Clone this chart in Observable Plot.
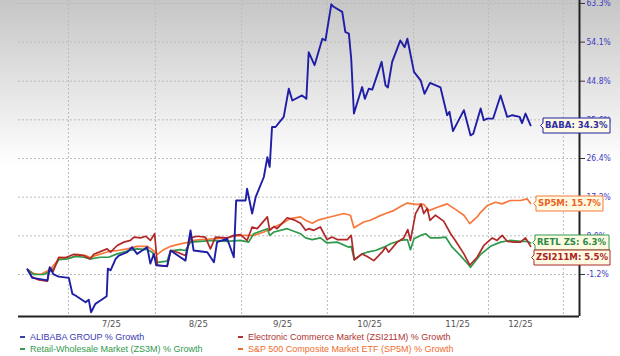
<!DOCTYPE html>
<html><head><meta charset="utf-8">
<script src="https://cdn.jsdelivr.net/npm/d3@7"></script>
<script src="https://cdn.jsdelivr.net/npm/@observablehq/plot@0.6"></script>
<style>
html,body{margin:0;padding:0;}
body{width:620px;height:356px;overflow:hidden;background:linear-gradient(to bottom,#c6c6c6 0px,#ffffff 165px,#ffffff 356px);font-family:"Liberation Sans",Arial,sans-serif;}
#chart svg{display:block;}
.legend{position:relative;height:25px;margin-top:1px;font-size:9px;}
.item{position:absolute;white-space:nowrap;line-height:12px;}
.dash{display:inline-block;width:5px;height:2px;vertical-align:middle;margin-right:5px;position:relative;top:-1px;}
</style></head><body>
<div id="chart"></div>
<div class="legend" id="legend"></div>
<script>
// x is a trading-day index counted from the start of the period
const xDomain = [-2.31, 141.54];
const yDomain = [-11.2, 64.0];
const yTicks = [63.3, 54.1, 44.8, 35.6, 26.4, 17.2, 8.0, -1.2];
const gridDays = [10.5, 32.8, 54.9, 76.9, 99.0, 118.2, 137.4];
const labelDays = [21.5, 43.8, 65.4, 87.7, 110.3, 126.4];
const xLabels = ["7/25", "8/25", "9/25", "10/25", "11/25", "12/25"];

const seriesNames = ["ALIBABA GROUP % Growth", "Electronic Commerce Market (ZSI211M) % Growth", "Retail-Wholesale Market (ZS3M) % Growth", "S&P 500 Composite Market ETF (SP5M) % Growth"];
const endLabels = ["BABA: 34.3%", "ZSI211M: 5.5%", "RETL ZS: 6.3%", "SP5M: 15.7%"];

const baba = [[0,0],[1.2,-2.0],[2.5,-2.2],[5.1,-2.6],[5.7,0.5],[6.7,-1.2],[8.0,-1.7],[10.6,-2.0],[11.5,-5.8],[12.3,-6.2],[14.9,-7.8],[15.7,-7.2],[16.3,-10.2],[17.4,-8.2],[18.7,-7.4],[20.3,-6.4],[20.6,0.2],[21.3,-0.2],[22.6,2.5],[23.4,3.3],[25.6,4.1],[26.8,5.3],[28.1,3.7],[29.4,4.5],[30.7,5.3],[31.5,1.4],[32.4,3.7],[33.0,1.0],[35.8,0.8],[36.7,4.5],[39.2,2.9],[40.5,2.1],[41.8,9.3],[42.6,4.5],[46.1,4.1],[47.8,1.7],[48.6,6.5],[51.2,7.3],[52.9,2.9],[53.5,16.4],[55.9,16.4],[56.3,19.2],[57.6,13.3],[58.5,17.2],[60.6,22.0],[61.5,26.7],[62.1,24.4],[62.7,33.9],[63.6,33.9],[65.7,36.3],[67.0,43.0],[67.9,40.2],[70.4,41.4],[71.5,40.6],[72.1,51.7],[73.6,48.6],[75.6,54.9],[76.4,54.5],[77.9,63.1],[78.5,62.5],[80.7,61.3],[81.5,56.5],[82.4,56.1],[83.0,50.2],[83.7,37.1],[85.8,43.4],[86.5,40.6],[87.5,43.0],[88.4,42.8],[90.8,49.4],[91.8,43.8],[92.4,43.3],[93.5,49.4],[95.6,54.5],[96.7,52.9],[97.4,54.9],[99.1,47.0],[100.8,45.0],[101.8,41.8],[103.2,44.4],[105.9,43.3],[107.6,36.7],[108.2,37.5],[109.1,32.9],[111.9,37.9],[113.6,31.9],[114.3,32.3],[116.2,38.3],[117.0,35.5],[117.9,35.9],[119.4,35.9],[121.3,41.4],[123.0,36.3],[124.3,36.7],[126.2,36.3],[126.8,34.8],[127.7,37.1],[129.0,34.3]];

const zsi211m = [[0,0],[1.2,-1.8],[2.9,-2.5],[5.1,-2.8],[5.7,0.5],[6.6,-0.4],[8.0,2.9],[9.7,2.8],[11.9,3.6],[14.4,3.3],[16.0,2.5],[17.0,3.6],[20.4,4.9],[21.3,4.1],[23.0,5.7],[24.7,6.5],[26.4,6.9],[27.3,7.7],[29.0,7.5],[30.3,7.9],[31.5,6.9],[32.6,8.5],[33.3,1.0],[35.8,0.7],[36.7,4.5],[38.4,4.1],[40.5,3.3],[41.8,7.5],[43.5,7.9],[45.6,7.7],[46.9,4.9],[48.2,7.7],[51.2,7.5],[52.9,8.1],[54.6,8.3],[56.3,6.9],[57.6,10.1],[58.9,9.7],[61.5,12.5],[62.1,9.3],[63.2,10.2],[64.0,9.7],[66.6,12.3],[68.3,11.8],[70.0,11.0],[71.3,9.3],[72.1,9.7],[73.4,9.3],[75.1,10.1],[76.8,7.1],[78.1,7.7],[79.4,7.1],[82.0,7.1],[83.0,8.1],[83.8,2.3],[85.8,3.7],[87.1,3.1],[88.8,2.1],[90.9,4.1],[91.8,5.3],[92.6,4.1],[94.8,6.5],[96.5,7.5],[97.5,9.5],[98.2,6.9],[99.5,13.3],[100.9,15.6],[101.6,13.3],[102.5,14.5],[103.2,11.7],[104.6,12.9],[106.7,11.5],[108.5,8.5],[109.7,6.9],[111.9,3.7],[113.4,1.0],[115.3,2.9],[117.0,5.7],[119.2,7.5],[120.4,6.9],[121.7,8.1],[123.0,6.7],[124.7,6.5],[126.4,6.5],[127.7,7.5],[129.0,5.5]];

const retl = [[0,0],[1.6,-1.2],[4.2,-1.2],[5.9,-0.4],[6.7,0.2],[8.0,2.3],[10.2,2.5],[12.3,3.1],[14.4,2.9],[16.2,2.5],[18.7,2.9],[20.8,2.9],[23.0,3.7],[25.6,4.4],[28.1,4.9],[30.7,4.7],[32.0,4.1],[33.3,1.7],[35.8,2.0],[36.7,4.4],[39.2,4.7],[40.5,4.5],[41.8,6.5],[44.4,6.7],[47.8,6.9],[51.2,6.7],[54.6,6.9],[56.7,6.5],[58.0,8.5],[61.5,9.7],[62.1,8.1],[63.2,8.9],[66.6,9.7],[70.0,8.5],[71.3,7.5],[73.0,7.1],[75.1,7.5],[76.8,6.3],[79.4,6.5],[82.4,5.3],[83.0,5.5],[83.8,2.3],[85.8,3.7],[87.1,4.1],[89.2,4.5],[91.4,5.3],[93.1,6.1],[95.6,6.9],[97.4,7.1],[98.2,4.7],[99.1,7.3],[100.8,8.1],[102.1,8.5],[103.3,7.5],[105.5,7.5],[107.2,7.7],[108.9,5.3],[111.0,3.3],[113.2,1.0],[113.6,0.5],[116.2,3.6],[118.7,5.5],[121.3,6.5],[123.8,6.9],[126.4,6.7],[128.2,6.7],[129.0,6.3]];

const sp5m = [[0,0],[1.6,-1.0],[3.3,-1.2],[5.1,-0.4],[6.3,0.5],[8.0,2.5],[9.7,2.8],[11.5,2.9],[12.7,3.6],[14.9,3.3],[16.2,2.8],[17.4,3.3],[19.6,3.9],[21.3,4.4],[23.0,4.5],[25.6,4.9],[28.1,5.5],[30.7,5.5],[32.0,4.7],[33.3,3.6],[34.9,4.7],[36.7,5.5],[39.2,6.1],[41.4,6.5],[42.6,6.9],[44.4,7.1],[47.8,7.3],[51.2,7.5],[52.9,7.9],[55.5,8.1],[58.0,8.1],[60.6,8.9],[63.2,10.1],[65.3,10.9],[67.4,12.1],[70.0,12.5],[71.3,11.7],[73.0,11.0],[74.7,11.8],[76.8,12.3],[79.4,12.9],[81.1,13.3],[82.8,12.9],[83.7,9.9],[86.2,11.3],[87.9,11.7],[89.7,12.5],[91.8,13.3],[93.9,14.0],[96.1,15.2],[97.4,15.8],[99.5,15.5],[101.6,15.5],[102.9,14.0],[105.1,14.8],[107.6,15.6],[110.2,14.0],[111.9,12.9],[113.4,10.9],[115.3,12.5],[116.2,13.6],[117.9,15.2],[120.0,16.0],[121.7,15.6],[123.8,16.4],[126.4,16.4],[128.1,16.8],[129.0,15.7]];

const lineColors = ["#1e1ea6", "#b02828", "#2f9a4c", "#f7783a"];
const textColors = ["#2f2fa8", "#a82424", "#2a8a44", "#ec6226"];
const legendColors = ["#3a3ab4", "#b03232", "#33994d", "#ef6c2e"];
const seriesData = [baba, zsi211m, retl, sp5m];

const lastOf = a => a[a.length - 1];
const tipOpts = (i, dx, dy) => ({
  x: d => d[0], y: d => d[1], title: () => endLabels[i],
  anchor: "left", fill: "#fffbe2", stroke: lineColors[i], strokeWidth: 1,
  textPadding: 2, pointerSize: 5, fontSize: 9.5, fontWeight: "bold",
  fontFamily: "'DejaVu Sans Condensed','DejaVu Sans',sans-serif",
  pathFilter: "none", dx, dy
});

const chart = Plot.plot({
  width: 620, height: 330,
  marginTop: 0, marginLeft: 18, marginRight: 41, marginBottom: 14,
  style: {background: "transparent", overflow: "visible", fontFamily: "'DejaVu Sans Condensed','DejaVu Sans',sans-serif"},
  x: {type: "linear", domain: xDomain},
  y: {type: "linear", domain: yDomain},
  marks: [
    Plot.ruleY(yTicks, {stroke: "#bcbcbc", strokeDasharray: "2,2", strokeWidth: 1}),
    Plot.ruleX(gridDays, {stroke: "#bcbcbc", strokeDasharray: "2,2", strokeWidth: 1}),
    Plot.line(sp5m, {x: d => d[0], y: d => d[1], stroke: lineColors[3], strokeWidth: 1.7}),
    Plot.line(retl, {x: d => d[0], y: d => d[1], stroke: lineColors[2], strokeWidth: 1.7}),
    Plot.line(zsi211m, {x: d => d[0], y: d => d[1], stroke: lineColors[1], strokeWidth: 1.7}),
    Plot.line(baba, {x: d => d[0], y: d => d[1], stroke: lineColors[0], strokeWidth: 1.9}),
    Plot.ruleY([yDomain[0]], {stroke: "#222", strokeWidth: 2}),
    Plot.ruleX([xDomain[1]], {stroke: "#222", strokeWidth: 2}),
    Plot.axisY(yTicks, {anchor: "right", tickSize: 5, tickPadding: 2, stroke: "#333", fill: "#3b3bc2", fontSize: 8.5, tickFormat: d => d.toFixed(1) + "%"}),
    Plot.axisX(labelDays, {anchor: "bottom", tickSize: 0, tickPadding: 3.5, fill: "#555", fontSize: 9.5, tickFormat: d => xLabels[labelDays.indexOf(d)]}),
    Plot.tip([lastOf(baba)], tipOpts(0, 10, 0)),
    Plot.tip([lastOf(sp5m)], tipOpts(3, 3, 0)),
    Plot.tip([lastOf(retl)], tipOpts(2, 2, 0)),
    Plot.tip([lastOf(zsi211m)], tipOpts(1, 1, 11))
  ]
});
document.getElementById("chart").appendChild(chart);

// colour the text inside each end label like its series
const tipTextColors = [textColors[0], textColors[3], textColors[2], textColors[1]];
chart.querySelectorAll('g[aria-label="tip"]').forEach((g, i) => {
  g.querySelectorAll("text, tspan").forEach(t => { t.setAttribute("fill", tipTextColors[i]); t.style.fill = tipTextColors[i]; });
});

// legend
const legend = document.getElementById("legend");
const legendOrder = [0, 1, 2, 3];
legendOrder.forEach((si, k) => {
  const item = document.createElement("div");
  item.className = "item";
  item.style.left = (k % 2 === 0 ? 20 : 238) + "px";
  item.style.top = (k < 2 ? 0 : 12) + "px";
  item.style.color = legendColors[si];
  const dash = document.createElement("span");
  dash.className = "dash";
  dash.style.background = legendColors[si];
  item.appendChild(dash);
  item.appendChild(document.createTextNode(seriesNames[si]));
  legend.appendChild(item);
});
</script>
</body></html>
